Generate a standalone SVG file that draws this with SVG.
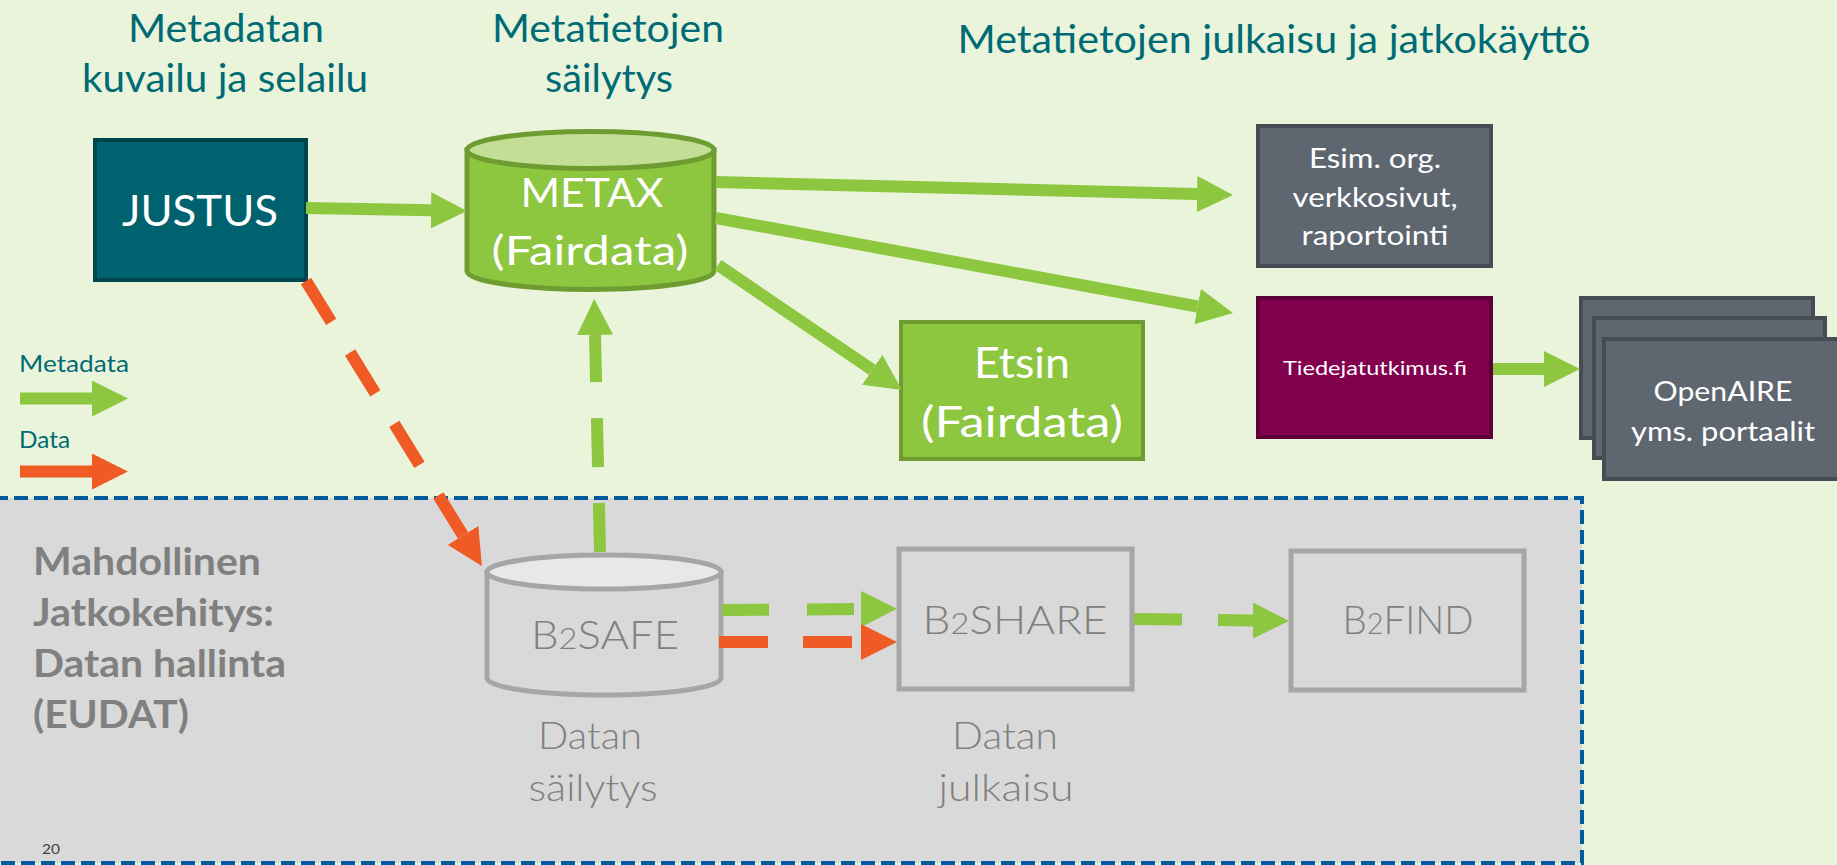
<svg xmlns="http://www.w3.org/2000/svg" width="1837" height="865" viewBox="0 0 1837 865">
<defs>
<style>
text{font-family:Lato,"Open Sans","Liberation Sans",sans-serif;}
.hdr{fill:#006B74;font-size:39px;text-anchor:middle;}
.wt{fill:#FFFFFF;text-anchor:middle;}
.gt{fill:#808080;text-anchor:middle;font-weight:300;}
.gshaft{stroke:#8DC63F;stroke-width:12;fill:none;}
.oshaft{stroke:#F05A24;stroke-width:12;fill:none;}
.slate{fill:#5E6670;stroke:#454C54;stroke-width:4;}
.ghost{fill:#D9D9D9;stroke:#A6A6A6;stroke-width:5;}
</style>
<marker id="hg" viewBox="0 0 36 36" markerWidth="36" markerHeight="36" refX="0" refY="18" orient="auto" markerUnits="userSpaceOnUse"><path d="M0,0 L36,18 L0,36 Z" fill="#8DC63F"/></marker>
<marker id="ho" viewBox="0 0 36 36" markerWidth="36" markerHeight="36" refX="0" refY="18" orient="auto" markerUnits="userSpaceOnUse"><path d="M0,0 L36,18 L0,36 Z" fill="#F05A24"/></marker>
</defs>
<rect x="0" y="0" width="1837" height="865" fill="#EAF4DB"/>
<g id="region-eudat">
<rect x="-6" y="498" width="1588" height="365" fill="#D9D9D9" stroke="#005A9E" stroke-width="4" stroke-dasharray="14 6"/>
<text x="33" y="575" fill="#808080" font-weight="bold" font-size="38" textLength="228" lengthAdjust="spacingAndGlyphs">Mahdollinen</text>
<text x="33" y="626" fill="#808080" font-weight="bold" font-size="38" textLength="241" lengthAdjust="spacingAndGlyphs">Jatkokehitys:</text>
<text x="33" y="677" fill="#808080" font-weight="bold" font-size="38" textLength="253" lengthAdjust="spacingAndGlyphs">Datan hallinta</text>
<text x="33" y="728" fill="#808080" font-weight="bold" font-size="38" textLength="156" lengthAdjust="spacingAndGlyphs">(EUDAT)</text>
<text x="42" y="854" fill="#404040" font-size="14" textLength="18" lengthAdjust="spacingAndGlyphs">20</text>
</g>
<g id="headers">
<text class="hdr" x="226" y="42" textLength="196" lengthAdjust="spacingAndGlyphs">Metadatan</text>
<text class="hdr" x="225" y="92" textLength="286" lengthAdjust="spacingAndGlyphs">kuvailu ja selailu</text>
<text class="hdr" x="608" y="42" textLength="232" lengthAdjust="spacingAndGlyphs">Metatietojen</text>
<text class="hdr" x="609" y="92" textLength="128" lengthAdjust="spacingAndGlyphs">säilytys</text>
<text class="hdr" x="1274" y="53" textLength="633" lengthAdjust="spacingAndGlyphs">Metatietojen julkaisu ja jatkokäyttö</text>
</g>
<g id="legend">
<text x="19" y="372" fill="#006B74" font-size="24" textLength="110" lengthAdjust="spacingAndGlyphs">Metadata</text>
<line class="gshaft" x1="20" y1="398.5" x2="92" y2="398.5" marker-end="url(#hg)"/>
<text x="19" y="448" fill="#006B74" font-size="24" textLength="51" lengthAdjust="spacingAndGlyphs">Data</text>
<line class="oshaft" x1="20" y1="471.5" x2="92" y2="471.5" marker-end="url(#ho)"/>
</g>
<g id="node-justus">
<rect x="95" y="140" width="211" height="140" fill="#00626F" stroke="#00444E" stroke-width="4"/>
<text class="wt" x="200" y="226" font-size="43" textLength="156" lengthAdjust="spacingAndGlyphs">JUSTUS</text>
</g>
<g id="node-metax">
<path d="M467,150 V271 A123.5,18.5 0 0 0 714,271 V150 Z" fill="#8DC63F" stroke="#6E9C31" stroke-width="5"/>
<ellipse cx="590.5" cy="150" rx="123.5" ry="18.5" fill="#C2DF95" stroke="#6E9C31" stroke-width="5"/>
<text class="wt" x="592" y="207" font-size="41" textLength="143" lengthAdjust="spacingAndGlyphs">METAX</text>
<text class="wt" x="590" y="265" font-size="41" textLength="197" lengthAdjust="spacingAndGlyphs">(Fairdata)</text>
</g>
<g id="node-etsin">
<rect x="901" y="322" width="242" height="137" fill="#8DC63F" stroke="#6E9C31" stroke-width="4"/>
<text class="wt" x="1022" y="378" font-size="42" textLength="96" lengthAdjust="spacingAndGlyphs">Etsin</text>
<text class="wt" x="1022" y="437" font-size="42" textLength="202" lengthAdjust="spacingAndGlyphs">(Fairdata)</text>
</g>
<g id="node-esim">
<rect class="slate" x="1258" y="126" width="233" height="140"/>
<text class="wt" x="1375" y="168" font-size="26" textLength="132" lengthAdjust="spacingAndGlyphs">Esim. org.</text>
<text class="wt" x="1375" y="207" font-size="26" textLength="165" lengthAdjust="spacingAndGlyphs">verkkosivut,</text>
<text class="wt" x="1375" y="245" font-size="26" textLength="147" lengthAdjust="spacingAndGlyphs">raportointi</text>
</g>
<g id="node-tiedejatutkimus">
<rect x="1258" y="298" width="233" height="139" fill="#82004E" stroke="#5E0038" stroke-width="4"/>
<text class="wt" x="1375" y="375" font-size="20" textLength="184" lengthAdjust="spacingAndGlyphs">Tiedejatutkimus.fi</text>
</g>
<g id="node-openaire">
<rect class="slate" x="1581" y="298" width="232" height="140"/>
<rect class="slate" x="1594" y="318" width="231" height="140"/>
<rect class="slate" x="1604" y="339" width="236" height="140"/>
<text class="wt" x="1723" y="401" font-size="26" textLength="139" lengthAdjust="spacingAndGlyphs">OpenAIRE</text>
<text class="wt" x="1723" y="441" font-size="26" textLength="184" lengthAdjust="spacingAndGlyphs">yms. portaalit</text>
</g>
<g id="node-b2safe">
<path d="M487,572 V678 A117,17 0 0 0 721,678 V572 Z" fill="#D9D9D9" stroke="#A6A6A6" stroke-width="5"/>
<ellipse cx="604" cy="572" rx="117" ry="17" fill="#E8E8E8" stroke="#A6A6A6" stroke-width="5"/>
<text class="gt" x="605" y="649" font-size="40" textLength="148" lengthAdjust="spacingAndGlyphs">B<tspan font-size="30">2</tspan>SAFE</text>
<text class="gt" x="590" y="749" font-size="37" textLength="104" lengthAdjust="spacingAndGlyphs">Datan</text>
<text class="gt" x="593" y="801" font-size="37" textLength="129" lengthAdjust="spacingAndGlyphs">säilytys</text>
</g>
<g id="node-b2share">
<rect class="ghost" x="899" y="549" width="233" height="140"/>
<text class="gt" x="1015" y="634" font-size="40" textLength="185" lengthAdjust="spacingAndGlyphs">B<tspan font-size="30">2</tspan>SHARE</text>
<text class="gt" x="1005" y="749" font-size="37" textLength="106" lengthAdjust="spacingAndGlyphs">Datan</text>
<text class="gt" x="1006" y="801" font-size="37" textLength="135" lengthAdjust="spacingAndGlyphs">julkaisu</text>
</g>
<g id="node-b2find">
<rect class="ghost" x="1291" y="551" width="233" height="139"/>
<text class="gt" x="1408" y="634" font-size="40" textLength="131" lengthAdjust="spacingAndGlyphs">B<tspan font-size="30">2</tspan>FIND</text>
</g>
<g id="connectors">
<line class="gshaft" x1="306" y1="208" x2="431" y2="210.3" marker-end="url(#hg)"/>
<line class="gshaft" x1="716" y1="182" x2="1197" y2="194.1" marker-end="url(#hg)"/>
<line class="gshaft" x1="716" y1="218" x2="1197.6" y2="306.5" marker-end="url(#hg)"/>
<line class="gshaft" x1="718" y1="265" x2="872.2" y2="369.8" marker-end="url(#hg)"/>
<line class="gshaft" x1="1493" y1="369" x2="1544" y2="369" marker-end="url(#hg)"/>
<line class="gshaft" x1="600" y1="552" x2="595" y2="335" stroke-dasharray="49 36" marker-end="url(#hg)"/>
<line class="oshaft" x1="306" y1="281" x2="463" y2="535.4" stroke-dasharray="48 36" marker-end="url(#ho)"/>
<line class="gshaft" x1="722" y1="610" x2="861" y2="609" stroke-dasharray="47 38" marker-end="url(#hg)"/>
<line class="oshaft" x1="719" y1="642" x2="861" y2="642" stroke-dasharray="49 35" marker-end="url(#ho)"/>
<line class="gshaft" x1="1134" y1="619" x2="1253" y2="620.5" stroke-dasharray="48 36" marker-end="url(#hg)"/>
</g>
</svg>
